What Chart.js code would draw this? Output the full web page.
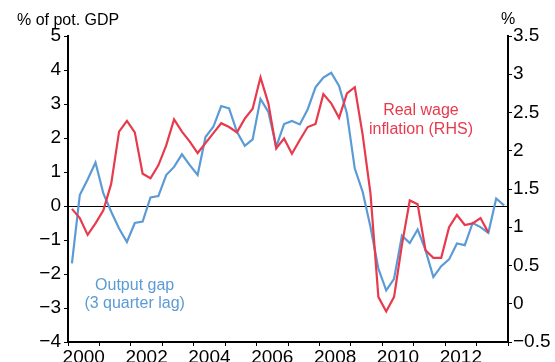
<!DOCTYPE html>
<html>
<head>
<meta charset="utf-8">
<script src="https://cdn.jsdelivr.net/npm/chart.js@4"></script>
<style>
  html, body { margin: 0; padding: 0; background: #fff; }
  canvas { display: block; }
</style>
</head>
<body>
<canvas id="gapChart" width="555" height="362"></canvas>
<script>
// quarterly series, first quarter is 2000 Q1
const startYear = 2000;

// output gap, % of potential GDP (lagged three quarters) - left axis
const outputGap = [
  -1.69, 0.32, 0.78, 1.28, 0.37, -0.17, -0.66, -1.06, -0.50, -0.46,
  0.25, 0.29, 0.91, 1.15, 1.52, 1.20, 0.91, 2.03, 2.33, 2.94,
  2.87, 2.18, 1.77, 1.96, 3.15, 2.77, 1.74, 2.41, 2.50, 2.40,
  2.84, 3.49, 3.78, 3.92, 3.53, 2.72, 1.10, 0.42, -0.62, -1.84,
  -2.48, -2.14, -0.87, -1.09, -0.69, -1.30, -2.09, -1.77, -1.57, -1.10,
  -1.15, -0.50, -0.62, -0.79, 0.22, 0.02
];

// real wage inflation, % - right axis
const realWage = [
  1.24, 1.12, 0.90, 1.05, 1.22, 1.57, 2.25, 2.39, 2.24, 1.70,
  1.64, 1.81, 2.07, 2.41, 2.25, 2.12, 1.97, 2.10, 2.23, 2.36,
  2.31, 2.24, 2.42, 2.55, 2.96, 2.62, 2.03, 2.16, 1.96, 2.14,
  2.31, 2.35, 2.74, 2.62, 2.43, 2.75, 2.83, 2.21, 1.44, 0.09,
  -0.10, 0.09, 0.77, 1.35, 1.30, 0.70, 0.60, 0.60, 1.00, 1.16,
  1.03, 1.05, 1.12, 0.93
];

const leftTicks = { min: -4, max: 5, step: 1 };
const rightTicks = { min: -0.5, max: 3.5, step: 0.5 };
const yearRange = { min: 2000, max: 2014 };

const BLUE = '#5b9bd5';
const RED = '#e83a4d';
const FONT = '"Liberation Sans", Arial, Helvetica, sans-serif';

// each quarter sits in the middle of its slot on the year axis
const toPoints = arr => arr.map((v, i) => ({ x: startYear + (i + 0.5) / 4, y: v }));

const minus = v => String(v).replace('-', '\u2212');

// axis titles and series labels
const labelPlugin = {
  id: 'labels',
  afterDraw(chart) {
    const { ctx, chartArea, scales } = chart;
    const x = scales.x, yl = scales.yLeft;
    ctx.save();
    ctx.textBaseline = 'middle';
    ctx.font = '16px ' + FONT;
    ctx.fillStyle = '#000';
    ctx.textAlign = 'left';
    ctx.fillText('% of pot. GDP', chartArea.left - 51, 21);
    ctx.textAlign = 'center';
    ctx.fillText('%', chartArea.right, 20);

    ctx.fillStyle = RED;
    ctx.fillText('Real wage', x.getPixelForValue(2011.23), yl.getPixelForValue(2.82));
    ctx.fillText('inflation (RHS)', x.getPixelForValue(2011.23), yl.getPixelForValue(2.26));

    ctx.fillStyle = BLUE;
    ctx.fillText('Output gap', x.getPixelForValue(2002.12), yl.getPixelForValue(-2.35));
    ctx.fillText('(3 quarter lag)', x.getPixelForValue(2002.12), yl.getPixelForValue(-2.86));
    ctx.restore();
  }
};

Chart.defaults.font.family = FONT;
Chart.defaults.color = '#000';

new Chart(document.getElementById('gapChart'), {
  type: 'line',
  data: {
    datasets: [
      {
        label: 'Real wage inflation (RHS)',
        data: toPoints(realWage),
        yAxisID: 'yRight',
        borderColor: RED,
        borderWidth: 2.2,
        pointRadius: 0,
        tension: 0,
        fill: false
      },
      {
        label: 'Output gap (3 quarter lag)',
        data: toPoints(outputGap),
        yAxisID: 'yLeft',
        borderColor: BLUE,
        borderWidth: 2.2,
        pointRadius: 0,
        tension: 0,
        fill: false
      }
    ]
  },
  options: {
    responsive: false,
    animation: false,
    devicePixelRatio: 1,
    layout: { padding: { top: 36 } },
    plugins: { legend: { display: false }, tooltip: { enabled: false } },
    scales: {
      x: {
        type: 'linear',
        min: yearRange.min,
        max: yearRange.max,
        afterFit: s => { s.height = 20; },
        border: { display: true, width: 2, color: '#000' },
        grid: {
          drawOnChartArea: false,
          tickLength: 4,
          tickWidth: 1,
          // tick marks only at year boundaries
          tickColor: c => (c.tick && Number.isInteger(c.tick.value)) ? '#000' : 'rgba(0,0,0,0)'
        },
        ticks: {
          stepSize: 0.5,
          autoSkip: false,
          maxRotation: 0,
          padding: 0,
          font: { size: 19 },
          // even years labelled at mid-year
          callback: v => {
            const y = Math.floor(v);
            return (v - y === 0.5 && y % 2 === 0) ? String(y) : '';
          }
        }
      },
      yLeft: {
        position: 'left',
        min: leftTicks.min,
        max: leftTicks.max,
        afterFit: s => { s.width = 68; },
        border: { display: true, width: 2, color: '#000' },
        grid: {
          drawOnChartArea: true,
          lineWidth: 1,
          color: c => (c.tick && c.tick.value === 0) ? '#000' : 'rgba(0,0,0,0)',
          tickColor: '#000',
          tickLength: 4
        },
        ticks: {
          stepSize: leftTicks.step,
          padding: 3,
          font: { size: 19 },
          callback: v => minus(v)
        }
      },
      yRight: {
        position: 'right',
        min: rightTicks.min,
        max: rightTicks.max,
        afterFit: s => { s.width = 47; },
        border: { display: true, width: 2, color: '#000' },
        grid: {
          drawOnChartArea: false,
          tickColor: '#000',
          tickLength: 4
        },
        ticks: {
          stepSize: rightTicks.step,
          padding: 1,
          font: { size: 19 },
          callback: v => minus(v)
        }
      }
    }
  },
  plugins: [labelPlugin]
});
</script>
</body>
</html>
